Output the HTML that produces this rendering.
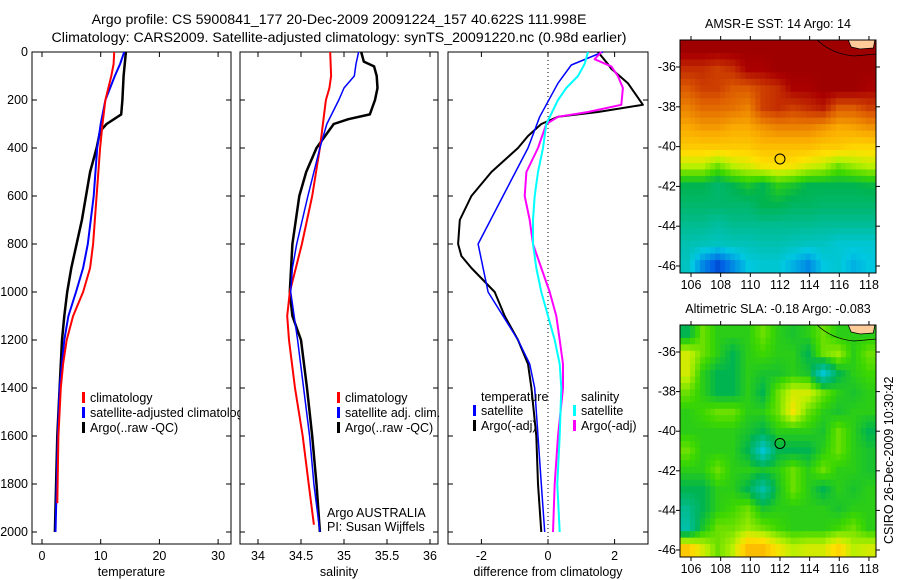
<!DOCTYPE html>
<html><head><meta charset="utf-8"><style>
html,body{margin:0;padding:0;background:#fff;}
svg{display:block;font-family:"Liberation Sans",sans-serif;}
</style></head><body>
<svg id="chart" width="900" height="580" viewBox="0 0 900 580" xmlns="http://www.w3.org/2000/svg">
<text x="339" y="24" font-size="14.2" text-anchor="middle">Argo profile: CS 5900841_177 20-Dec-2009 20091224_157 40.622S 111.998E</text>
<text x="339" y="42" font-size="14.2" text-anchor="middle">Climatology: CARS2009. Satellite-adjusted climatology: synTS_20091220.nc (0.98d earlier)</text>
<g id="g"></g>
</svg>
<script>
// ---- temperature panel data ----
const tRedD=[0,50,100,200,300,400,600,800,900,1000,1100,1200,1300,1400,1600,1880];
const tRedV=[12.3,12.2,11.8,10.8,10.3,9.9,9.3,8.7,8.2,7.0,5.3,4.2,3.6,3.2,2.8,2.6];
const tBluD=[0,50,100,200,300,400,600,800,900,1000,1100,1200,1400,1600,1800,2000];
const tBluV=[14.0,13.3,12.4,10.8,10.0,9.4,8.8,7.8,7.0,5.8,4.5,3.8,3.0,2.7,2.5,2.3];
const tBlkD=[0,100,200,260,300,330,400,500,600,700,800,900,1000,1100,1200,1400,1600,1800,2000];
const tBlkV=[14.3,13.9,13.7,13.5,11.0,9.9,9.3,8.2,7.5,6.8,5.9,5.0,4.3,3.8,3.4,3.0,2.6,2.4,2.2];
// ---- salinity panel data ----
const sRedD=[0,100,150,200,400,600,800,1000,1100,1200,1400,1600,1800,1970];
const sRedV=[34.84,34.85,34.83,34.79,34.72,34.63,34.51,34.37,34.34,34.36,34.43,34.52,34.59,34.65];
const sBluD=[0,50,100,150,200,300,400,600,800,900,1000,1200,1400,1600,1800,2000];
const sBluV=[35.17,35.14,35.12,35.0,34.94,34.8,34.72,34.58,34.45,34.40,34.38,34.46,34.53,34.6,34.65,34.72];
const sBlkD=[0,40,60,100,150,200,260,280,300,350,400,500,600,800,1000,1100,1200,1400,1600,1800,2000];
const sBlkV=[35.2,35.23,35.35,35.38,35.39,35.36,35.3,35.05,34.88,34.78,34.68,34.56,34.48,34.40,34.37,34.40,34.5,34.57,34.63,34.68,34.72];
// ---- difference panel data ----
const dTsD=[0,54,130,270,400,600,800,1000,1200,1300,1400,1600,1800,2000];
const dTsV=[1.65,0.7,0.3,-0.25,-0.6,-1.35,-2.1,-1.8,-0.9,-0.55,-0.4,-0.3,-0.2,-0.1];
const dTaD=[0,50,70,130,220,250,270,300,350,400,500,600,700,800,850,900,1000,1100,1200,1300,1400,1600,1800,2000];
const dTaV=[1.5,1.8,1.9,2.4,2.85,1.5,0.3,-0.2,-0.6,-0.9,-1.7,-2.3,-2.65,-2.7,-2.6,-2.3,-1.6,-1.3,-0.9,-0.6,-0.5,-0.35,-0.3,-0.2];
const dSsD=[0,50,100,150,200,300,400,500,600,700,800,900,1000,1100,1200,1300,1400,1600,1800,2000];
const dSsV=[1.2,1.1,0.9,0.55,0.3,-0.05,-0.15,-0.3,-0.4,-0.45,-0.45,-0.35,-0.2,0.0,0.2,0.35,0.4,0.35,0.28,0.35];
const dSaD=[0,30,60,100,150,220,250,270,300,400,500,600,700,800,900,1000,1100,1200,1300,1400,1600,1800,2000];
const dSaV=[1.6,1.4,1.9,2.1,2.25,2.2,1.2,0.3,-0.05,-0.3,-0.65,-0.7,-0.55,-0.45,-0.2,0.05,0.25,0.35,0.45,0.45,0.3,0.2,0.15];
// ---- ticks ----
const depthTicks=[0,200,400,600,800,1000,1200,1400,1600,1800,2000];
const tTicks=[0,10,20,30];
const sTicks=[34,34.5,35,35.5,36];
const sTickLabels=["34","34.5","35","35.5","36"];
const dTicks=[-2,0,2];
const lonTicks=[106,108,110,112,114,116,118];
const latTicks=[-36,-38,-40,-42,-44,-46];
// ---- map grids (colour index 0..1), rows from -35 to -46 ----
const sstGrid=[
[0.97,0.97,0.97,0.97,0.97,0.97,0.97,0.97,0.97,0.97,0.97,0.97,0.97],
[0.9,0.9,0.88,0.9,0.95,0.95,0.97,0.97,0.97,0.97,0.97,0.97,0.97],
[0.85,0.88,0.88,0.85,0.85,0.88,0.9,0.95,0.95,0.97,0.97,0.97,0.95],
[0.8,0.83,0.83,0.82,0.8,0.88,0.9,0.88,0.9,0.92,0.85,0.85,0.88],
[0.75,0.77,0.77,0.75,0.75,0.78,0.8,0.8,0.8,0.78,0.75,0.76,0.78],
[0.7,0.7,0.7,0.7,0.7,0.72,0.72,0.72,0.72,0.7,0.7,0.68,0.68],
[0.6,0.6,0.55,0.6,0.62,0.65,0.66,0.65,0.62,0.6,0.55,0.58,0.6],
[0.45,0.45,0.42,0.45,0.48,0.45,0.5,0.48,0.45,0.45,0.45,0.45,0.46],
[0.42,0.42,0.42,0.42,0.42,0.45,0.45,0.43,0.43,0.42,0.42,0.42,0.42],
[0.38,0.38,0.36,0.38,0.38,0.38,0.38,0.38,0.38,0.37,0.37,0.37,0.37],
[0.34,0.33,0.32,0.33,0.33,0.34,0.34,0.33,0.32,0.32,0.3,0.3,0.3],
[0.32,0.2,0.12,0.2,0.28,0.3,0.3,0.25,0.2,0.28,0.3,0.25,0.28]];
const slaGrid=[
[0.45,0.55,0.5,0.5,0.5,0.55,0.5,0.48,0.5,0.55,0.5,0.5,0.5],
[0.62,0.55,0.5,0.45,0.5,0.52,0.5,0.5,0.45,0.55,0.58,0.5,0.55],
[0.62,0.5,0.45,0.45,0.5,0.48,0.48,0.5,0.48,0.3,0.45,0.5,0.52],
[0.55,0.5,0.45,0.45,0.5,0.45,0.55,0.62,0.62,0.55,0.5,0.48,0.5],
[0.5,0.52,0.55,0.55,0.5,0.5,0.55,0.65,0.55,0.5,0.48,0.5,0.5],
[0.5,0.5,0.5,0.5,0.48,0.45,0.5,0.5,0.5,0.48,0.55,0.5,0.45],
[0.55,0.5,0.5,0.5,0.45,0.3,0.45,0.45,0.45,0.5,0.55,0.5,0.48],
[0.5,0.5,0.55,0.5,0.5,0.48,0.5,0.55,0.5,0.55,0.5,0.5,0.48],
[0.45,0.45,0.5,0.5,0.45,0.35,0.48,0.55,0.5,0.45,0.5,0.48,0.5],
[0.38,0.45,0.5,0.52,0.55,0.48,0.5,0.5,0.5,0.5,0.48,0.5,0.5],
[0.35,0.48,0.55,0.55,0.58,0.55,0.52,0.5,0.5,0.5,0.52,0.55,0.5],
[0.7,0.62,0.55,0.6,0.72,0.72,0.65,0.6,0.62,0.62,0.68,0.6,0.62]];
const argoLon=112.0, argoLat=-40.62;

const NS="http://www.w3.org/2000/svg";
const G=document.getElementById('g');
function mk(tag,attrs,parent){const e=document.createElementNS(NS,tag);for(const k in attrs)e.setAttribute(k,attrs[k]);(parent||G).appendChild(e);return e;}
function txt(s,x,y,attrs,parent){const e=mk('text',Object.assign({x:x,y:y,'font-size':12.5},attrs||{}),parent);e.textContent=s;return e;}

const Y0=52,Y1=544;
const yD=d=>Y0+d*0.24;
const panels=[
 {name:'temperature',x0:32,x1:231,sx:v=>42+v*5.87,ticks:tTicks,labels:tTicks.map(String),title:'temperature',zero:false},
 {name:'salinity',x0:240,x1:438,sx:v=>258+(v-34)*86,ticks:sTicks,labels:sTickLabels,title:'salinity',zero:false},
 {name:'difference',x0:448,x1:648,sx:v=>548+v*33.3,ticks:dTicks,labels:dTicks.map(String),title:'difference from climatology',zero:true}];

panels.forEach((p,pi)=>{
 const g=mk('g',{});
 
 
 const fr=mk('rect',{x:p.x0,y:Y0,width:p.x1-p.x0,height:Y1-Y0,fill:'none',stroke:'#000','stroke-width':1},g);
 
 
 depthTicks.forEach(d=>{
  const y=yD(d);
  mk('line',{x1:p.x0,x2:p.x0+5,y1:y,y2:y,stroke:'#000'},g);
  mk('line',{x1:p.x1-5,x2:p.x1,y1:y,y2:y,stroke:'#000'},g);
  if(pi===0){const t=txt(String(d),p.x0-4,y+4,{'text-anchor':'end'},g);
   
   }
 });
 p.ticks.forEach((v,i)=>{
  const x=p.sx(v);
  mk('line',{x1:x,x2:x,y1:Y0,y2:Y0+5,stroke:'#000'},g);
  mk('line',{x1:x,x2:x,y1:Y1-5,y2:Y1,stroke:'#000'},g);
  const t=txt(p.labels[i],x,Y1+16,{'text-anchor':'middle'},g);
  
  
 });
 const at=txt(p.title,(p.x0+p.x1)/2,Y1+32,{'text-anchor':'middle'},g);
 
 
 if(p.zero){const z=mk('line',{x1:p.sx(0),x2:p.sx(0),y1:Y0,y2:Y1,stroke:'#000','stroke-dasharray':'1,3'},g);
  
  }
});

function line(D,V,sx,color,w,name){
 const pts=D.map((d,i)=>sx(V[i]).toFixed(1)+','+yD(d).toFixed(1)).join(' ');
 const e=mk('polyline',{points:pts,fill:'none',stroke:color,'stroke-width':w,'stroke-linejoin':'round'});
 
 
}
const P=panels;
line(tBlkD,tBlkV,P[0].sx,'#000',2.5,'temp-argo-line');
line(tBluD,tBluV,P[0].sx,'#00f',2,'temp-satellite-line');
line(tRedD,tRedV,P[0].sx,'#f00',2,'temp-climatology-line');
line(sBlkD,sBlkV,P[1].sx,'#000',2.5,'sal-argo-line');
line(sRedD,sRedV,P[1].sx,'#f00',2,'sal-climatology-line');
line(sBluD,sBluV,P[1].sx,'#00f',1.5,'sal-satellite-line');
line(dTaD,dTaV,P[2].sx,'#000',2,'diff-temp-argo-line');
line(dTsD,dTsV,P[2].sx,'#00f',1.5,'diff-temp-satellite-line');
line(dSaD,dSaV,P[2].sx,'#f0f',2,'diff-sal-argo-line');
line(dSsD,dSsV,P[2].sx,'#0ff',2,'diff-sal-satellite-line');

// legends
function legItem(x,y,color,label,name,clip){
 const g=mk('g',{});
 
 
 if(clip)g.setAttribute('clip-path','url(#clip1)');
 if(color)mk('rect',{x:x,y:y-10,width:3,height:11,fill:color},g);
 txt(label,x+8,y,{},g);
}
const defs=mk('defs',{});
const cp=mk('clipPath',{id:'clip1'},defs);
mk('rect',{x:0,y:0,width:240,height:580},cp);
legItem(82,402,'#f00','climatology','legend-climatology',true);
legItem(82,417,'#00f','satellite-adjusted climatology','legend-satellite-adjusted',true);
legItem(82,432,'#000','Argo(..raw -QC)','legend-argo',true);
legItem(337,402,'#f00','climatology','legend-sal-climatology');
legItem(337,417,'#00f','satellite adj. clim.','legend-sal-satellite');
legItem(337,432,'#000','Argo(..raw -QC)','legend-sal-argo');
let t=txt('Argo AUSTRALIA',327,517,{});


t=txt('PI: Susan Wijffels',327,531,{});


legItem(473,401,null,'temperature','legend-temperature-heading');
legItem(473,415,'#00f','satellite','legend-temp-satellite');
legItem(473,430,'#000','Argo(-adj)','legend-temp-argo');
legItem(573,401,null,'salinity','legend-salinity-heading');
legItem(573,415,'#0ff','satellite','legend-sal-sat');
legItem(573,430,'#f0f','Argo(-adj)','legend-sal-argo-adj');

// colormap
const cstops=[[0,[0,0,150]],[0.15,[0,100,230]],[0.28,[0,200,225]],[0.36,[0,190,160]],[0.45,[0,180,80]],[0.52,[60,215,0]],[0.6,[185,240,0]],[0.66,[255,225,0]],[0.75,[250,170,0]],[0.85,[220,90,0]],[0.95,[170,0,0]],[1,[140,0,0]]];
function cmap(v){for(let i=1;i<cstops.length;i++){if(v<=cstops[i][0]){const a=cstops[i-1],b=cstops[i],f=(v-a[0])/(b[0]-a[0]);return 'rgb('+a[1].map((c,k)=>Math.round(c+(b[1][k]-c)*f)).join(',')+')';}}return 'rgb(140,0,0)';}

// bilinear sampling of a grid at fractional cell coords (rendering smoothness only)
function sample(grid,fr,fc){
 const rows=grid.length,cols=grid[0].length;
 fr=Math.max(0,Math.min(rows-1,fr));fc=Math.max(0,Math.min(cols-1,fc));
 const r0=Math.floor(fr),c0=Math.floor(fc),r1=Math.min(rows-1,r0+1),c1=Math.min(cols-1,c0+1);
 const a=fr-r0,b=fc-c0;
 return grid[r0][c0]*(1-a)*(1-b)+grid[r0][c1]*(1-a)*b+grid[r1][c0]*a*(1-b)+grid[r1][c1]*a*b;
}

function drawMap(grid,top,bot,title,name){
 const L=680,R=876;
 const lonX=lon=>691+(lon-106)*14.83;
 const latY=lat=>top+27+(-36-lat)*((bot-top-34)/10);
 const g=mk('g',{});
 
 
 const rows=grid.length,cols=grid[0].length;
 const SUB=3;
 const ch=(bot-top)/(rows*SUB),cw=(R-L)/(cols*SUB);
 for(let r=0;r<rows*SUB;r++)for(let c=0;c<cols*SUB;c++){
  const v=sample(grid,(r+0.5)/SUB-0.5,(c+0.5)/SUB-0.5);
  const e=mk('rect',{x:(L+c*cw).toFixed(2),y:(top+r*ch).toFixed(2),width:(cw+0.5).toFixed(2),height:(ch+0.5).toFixed(2),fill:cmap(v)},g);
  
  
 }
 const land=mk('path',{d:`M${lonX(116.6)},${top} L${lonX(116.8)},${top+7} L${lonX(117.4)},${top+9} L${lonX(118.3)},${top+8} L${lonX(118.4)},${top} Z`,fill:'#ffcc99',stroke:'#000','stroke-width':0.8},g);
 
 
 const coast=mk('path',{d:`M${lonX(114.5)},${top} Q${lonX(115.5)},${top+14} ${lonX(117)},${top+16} L${lonX(118.5)},${top+14}`,fill:'none',stroke:'#000','stroke-width':0.8},g);
 
 
 mk('rect',{x:L,y:top,width:R-L,height:bot-top,fill:'none',stroke:'#000'},g);
 lonTicks.forEach(lon=>{const x=lonX(lon);
  mk('line',{x1:x,x2:x,y1:top,y2:top-4,stroke:'#000'},g);
  mk('line',{x1:x,x2:x,y1:bot,y2:bot+4,stroke:'#000'},g);
  const tt=txt(String(lon),x,bot+16,{'text-anchor':'middle'},g);
  
  });
 latTicks.forEach(lat=>{const y=latY(lat);
  mk('line',{x1:L,x2:L-4,y1:y,y2:y,stroke:'#000'},g);
  mk('line',{x1:R,x2:R+4,y1:y,y2:y,stroke:'#000'},g);
  const tt=txt(String(lat),L-4,y+4,{'text-anchor':'end'},g);
  
  });
 const c=mk('circle',{cx:lonX(argoLon),cy:latY(argoLat),r:5,fill:'none',stroke:'#000'},g);
 
 
 const tt=txt(title,(L+R)/2,top-12,{'text-anchor':'middle'},g);
 
 
}
drawMap(sstGrid,40,273,'AMSR-E SST: 14 Argo: 14','sst-map');
drawMap(slaGrid,325,557,'Altimetric SLA: -0.18 Argo: -0.083','sla-map');
t=txt('CSIRO 26-Dec-2009 10:30:42',0,0,{transform:'translate(893,544) rotate(-90)'});


</script>
</body></html>
